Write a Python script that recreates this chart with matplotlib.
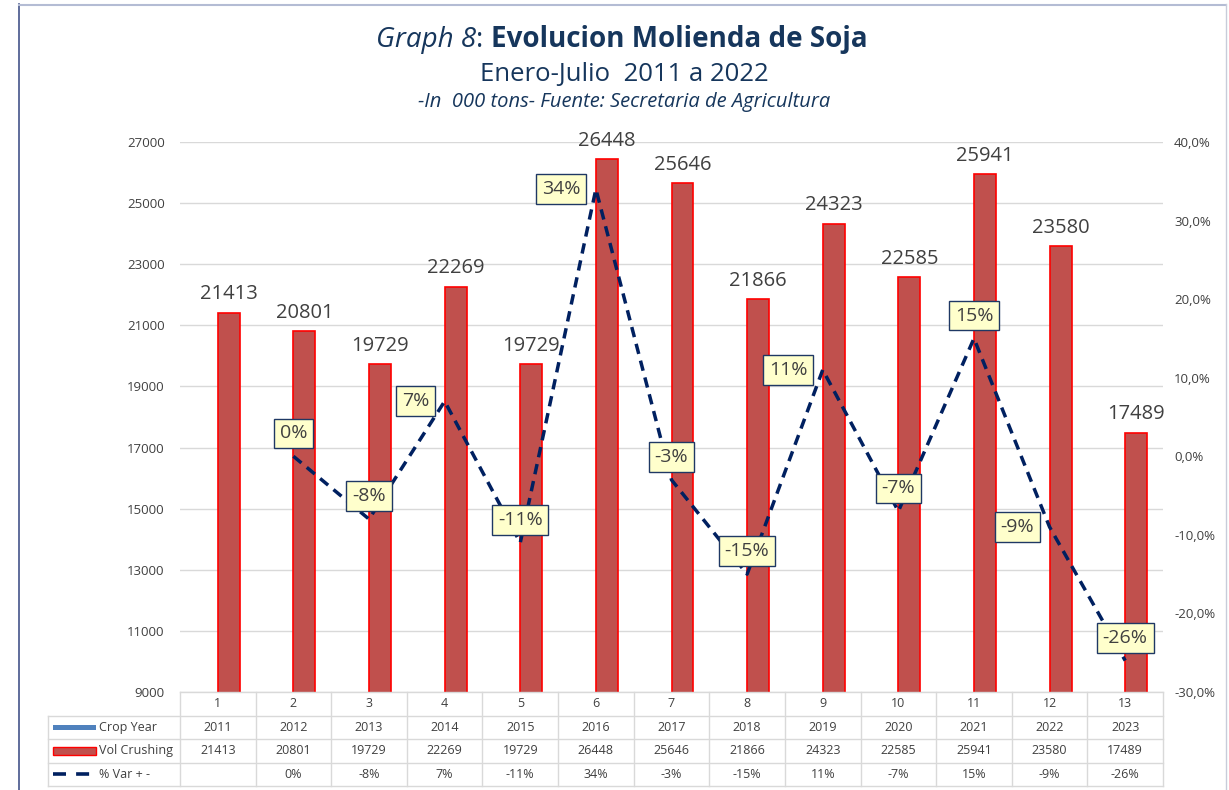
import matplotlib
matplotlib.use('Agg')
import matplotlib.pyplot as plt
from matplotlib.ticker import FuncFormatter, MultipleLocator, FixedLocator
from matplotlib.patches import Rectangle
from matplotlib.lines import Line2D

plt.rcParams['font.family'] = ['Open Sans', 'DejaVu Sans']

# ---------------- data ----------------
categories = list(range(1, 14))
crop_years = [2011, 2012, 2013, 2014, 2015, 2016, 2017, 2018, 2019, 2020, 2021, 2022, 2023]
vol_crushing = [21413, 20801, 19729, 22269, 19729, 26448, 25646, 21866, 24323, 22585, 25941, 23580, 17489]
pct_var = [None, 0, -8, 7, -11, 34, -3, -15, 11, -7, 15, -9, -26]
pct_label_side = [None, 'above', 'above', 'left', 'above', 'left', 'above', 'above',
                  'left', 'above', 'above', 'left', 'above']
left_ticks = [9000, 11000, 13000, 15000, 17000, 19000, 21000, 23000, 25000, 27000]
row_names = ['Crop Year', 'Vol Crushing', '% Var + -']

title_italic = 'Graph 8'
title_bold = 'Evolucion Molienda de Soja'
subtitle = 'Enero-Julio  2011 a 2022'
subsubtitle = '-In  000 tons- Fuente: Secretaria de Agricultura'

# ---------------- style ----------------
NAVY = '#16365C'
TXT = '#404040'
GRID = '#D9D9D9'
BAR = '#C0504D'
BAR_EDGE = '#FF0000'
BLUE = '#4F81BD'
LINE = '#002060'

W, H = 1229, 790
fig = plt.figure(figsize=(W / 100, H / 100), dpi=100)


def fx(px):
    return px / W


def fy(py):
    return 1 - py / H


# frame lines of the chart object
fig.add_artist(Line2D([fx(19), fx(19)], [fy(4), 0], color='#44548A', lw=1.2))
fig.add_artist(Line2D([fx(19), fx(1226)], [fy(4.5), fy(4.5)], color='#B4BCD4', lw=1.5))
fig.add_artist(Line2D([fx(1226), fx(1226)], [fy(4), 0], color='#C8CCDA', lw=1.0))

ax = fig.add_axes([fx(180), fy(692), fx(1163) - fx(180), fy(142) - fy(692)])
ax.set_xlim(0.5, len(categories) + 0.5)
ax.set_ylim(left_ticks[0], left_ticks[-1])
ax.yaxis.set_major_locator(FixedLocator(left_ticks))
ax.grid(axis='y', color=GRID, lw=1.0)
ax.set_axisbelow(True)
for s in ax.spines.values():
    s.set_visible(False)
ax.tick_params(axis='y', length=0, pad=11, labelsize=9.5, labelcolor=TXT)
ax.tick_params(axis='x', length=0, labelbottom=False)

bw = 0.29
# Crop Year series (values below the axis minimum -> not visible, as in the original)
ax.bar([c - bw for c in categories], crop_years, width=bw, align='edge', color=BLUE)
bars = ax.bar(categories, vol_crushing, width=bw, align='edge', color=BAR,
              edgecolor=BAR_EDGE, linewidth=1.2)
for c, v in zip(categories, vol_crushing):
    ax.annotate(f'{v}', (c + bw / 2, v), xytext=(0, 6), textcoords='offset points',
                ha='center', va='bottom', fontsize=14.5, color=TXT)

ax2 = ax.twinx()
ax2.set_ylim(-0.30, 0.40)
ax2.yaxis.set_major_locator(MultipleLocator(0.10))
ax2.yaxis.set_major_formatter(FuncFormatter(lambda v, p: f'{v * 100:.1f}%'.replace('.', ',')))
for s in ax2.spines.values():
    s.set_visible(False)
ax2.tick_params(axis='y', length=0, pad=8, labelsize=9.5, labelcolor=TXT)

lx = [c for c, p in zip(categories, pct_var) if p is not None]
ly = [p / 100 for p in pct_var if p is not None]
ax2.plot(lx, ly, color=LINE, lw=2.5, ls=(0, (3.0, 2.0)))

for c, p, side in zip(categories, pct_var, pct_label_side):
    if p is None:
        continue
    if side == 'above':
        off, ha, va = (0, 10), 'center', 'bottom'
    else:
        off, ha, va = (-11, 0), 'right', 'center'
    ax2.annotate(f'{p}%', (c, p / 100), xytext=off, textcoords='offset points',
                 ha=ha, va=va, fontsize=14, color=TXT, zorder=5,
                 bbox=dict(boxstyle='square,pad=0.3', fc='#FFFFCC', ec='#1F3864', lw=1.0))

# ---------------- data table ----------------
n = len(categories)
rh = 23.5 / 550.0          # row height in axes units
left_x = (48 - 180) / 983.0
bounds = [(c - 0.5 - 0.5) / n for c in categories] + [1.0]
ybot = -4 * rh
T = ax.transAxes
tl = dict(color=GRID, lw=1.0, transform=T, clip_on=False)

ax.add_line(Line2D([0, 1], [0, 0], **tl))
for r in range(1, 5):
    ax.add_line(Line2D([left_x, 1], [-r * rh, -r * rh], **tl))
for b in bounds:
    ax.add_line(Line2D([b, b], [0, ybot], **tl))
ax.add_line(Line2D([left_x, left_x], [-rh, ybot], **tl))

for i, c in enumerate(categories):
    xc = (bounds[i] + bounds[i + 1]) / 2
    vals = [str(c), str(crop_years[i]), str(vol_crushing[i]),
            '' if pct_var[i] is None else f'{pct_var[i]}%']
    for r, s in enumerate(vals):
        ax.text(xc, -(r + 0.5) * rh, s, transform=T, ha='center', va='center',
                fontsize=9, color=TXT, clip_on=False)

key_x0 = (53 - 180) / 983.0
key_x1 = (96 - 180) / 983.0
text_x = (99 - 180) / 983.0
for r, name in enumerate(row_names, start=1):
    yc = -(r + 0.5) * rh
    ax.text(text_x, yc, name, transform=T, ha='left', va='center', fontsize=9,
            color=TXT, clip_on=False)
    if r == 1:
        ax.add_patch(Rectangle((key_x0, yc - 2.5 / 550), key_x1 - key_x0, 5 / 550,
                               transform=T, fc=BLUE, ec='none', clip_on=False))
    elif r == 2:
        ax.add_patch(Rectangle((key_x0, yc - 4 / 550), key_x1 - key_x0, 8 / 550,
                               transform=T, fc=BAR, ec=BAR_EDGE, lw=1.0, clip_on=False))
    else:
        ax.add_line(Line2D([key_x0, key_x1], [yc, yc], color=LINE, lw=2.6,
                           ls=(0, (3.6, 2.8)), transform=T, clip_on=False))

# ---------------- titles ----------------
renderer = fig.canvas.get_renderer()
t1 = fig.text(0, fy(47), title_italic, fontsize=20, style='italic', color=NAVY, va='baseline')
t2 = fig.text(0, fy(47), ': ', fontsize=20, color=NAVY, va='baseline')
t3 = fig.text(0, fy(47), title_bold, fontsize=20, weight='bold', color=NAVY, va='baseline')
ws = [t.get_window_extent(renderer).width for t in (t1, t2, t3)]
x0 = 622 - sum(ws) / 2
for t, w in zip((t1, t2, t3), ws):
    t.set_x(fx(x0))
    x0 += w

fig.text(fx(624), fy(81), subtitle, fontsize=18.5, color=NAVY, ha='center', va='baseline')
fig.text(fx(624), fy(107), subsubtitle, fontsize=14.5, style='italic', color=NAVY,
         ha='center', va='baseline')

fig.savefig('out.png', dpi=100)
